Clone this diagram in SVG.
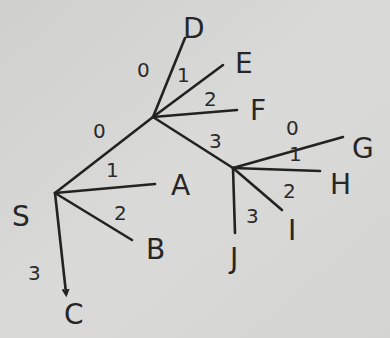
<svg xmlns="http://www.w3.org/2000/svg" width="390" height="338" viewBox="0 0 390 338">
<defs>
<linearGradient id="bg" x1="0" y1="0" x2="1" y2="1">
<stop offset="0" stop-color="#cfcfcd"/>
<stop offset="0.5" stop-color="#dadad8"/>
<stop offset="1" stop-color="#d4d4d2"/>
</linearGradient>
<marker id="arr" markerWidth="8" markerHeight="8" refX="4" refY="4" orient="auto" markerUnits="userSpaceOnUse">
<path d="M0,1 L6,4 L0,7" fill="none" stroke="#222" stroke-width="2"/>
</marker>
</defs>
<style>
.e{stroke:#222;stroke-width:2.6;fill:none;stroke-linecap:round}
.n{font-family:"DejaVu Sans","Liberation Sans",sans-serif;fill:#262626;font-size:28px}
.w{font-family:"DejaVu Sans","Liberation Sans",sans-serif;fill:#2a2a2a;font-size:20px}
</style>
<rect width="390" height="338" fill="url(#bg)"/>
<g id="connectors">
<path class="e" d="M55,193 L153,117"/>
<path class="e" d="M55,193 L155,184"/>
<path class="e" d="M55,193 L132,240"/>
<path class="e" d="M55,193 L66,293" marker-end="url(#arr)"/>
<path class="e" d="M153,117 L185,38"/>
<path class="e" d="M153,117 L223,65"/>
<path class="e" d="M153,117 L237,110"/>
<path class="e" d="M153,117 L233,168"/>
<path class="e" d="M233,168 L343,137"/>
<path class="e" d="M233,168 L320,171"/>
<path class="e" d="M233,168 L282,210"/>
<path class="e" d="M233,168 L235,233"/>
<text class="w" x="93" y="138">0</text>
<text class="w" x="106" y="177">1</text>
<text class="w" x="114" y="220">2</text>
<text class="w" x="28" y="280">3</text>
<text class="w" x="137" y="77">0</text>
<text class="w" x="177" y="82">1</text>
<text class="w" x="204" y="106">2</text>
<text class="w" x="209" y="148">3</text>
<text class="w" x="286" y="135">0</text>
<text class="w" x="289" y="161">1</text>
<text class="w" x="283" y="198">2</text>
<text class="w" x="246" y="223">3</text>
</g>
<g id="S"><text class="n" x="12" y="226" font-size="38">S</text></g>
<g id="A"><text class="n" x="171" y="195">A</text></g>
<g id="B"><text class="n" x="146" y="259">B</text></g>
<g id="C"><text class="n" x="64" y="324" font-size="26">C</text></g>
<g id="D"><text class="n" x="183" y="38">D</text></g>
<g id="E"><text class="n" x="235" y="73">E</text></g>
<g id="F"><text class="n" x="250" y="120">F</text></g>
<g id="G"><text class="n" x="352" y="158">G</text></g>
<g id="H"><text class="n" x="330" y="194">H</text></g>
<g id="I"><text class="n" x="288" y="240">I</text></g>
<g id="J"><text class="n" x="230" y="268">J</text></g>
</svg>
